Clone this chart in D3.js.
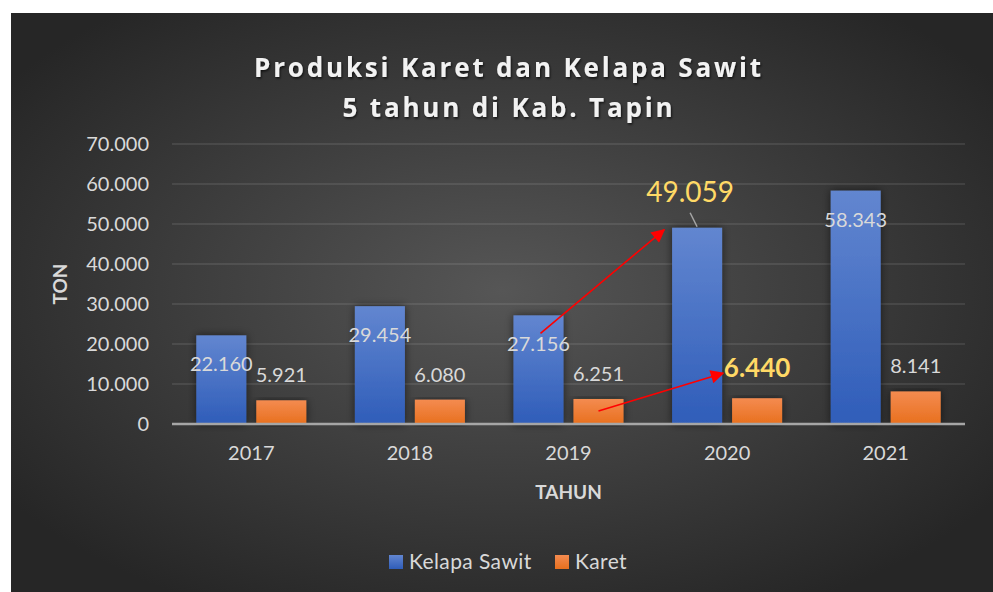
<!DOCTYPE html>
<html>
<head>
<meta charset="utf-8">
<script src="https://cdn.jsdelivr.net/npm/d3@7"></script>
<style>
  body { margin: 0; background: #fff; }
  text { font-family: Lato, "Open Sans", sans-serif; }
</style>
</head>
<body>
<div id="chart"></div>
<script>
// chart data
var years = ["2017", "2018", "2019", "2020", "2021"];
var seriesNames = ["Kelapa Sawit", "Karet"];
var sawit = [22160, 29454, 27156, 49059, 58343];
var karet = [5921, 6080, 6251, 6440, 8141];
var yTicks = [0, 10000, 20000, 30000, 40000, 50000, 60000, 70000];
var titleLines = ["Produksi Karet dan Kelapa Sawit", "5 tahun di Kab. Tapin"];

var svgWidth = 993;
var svgHeight = 592;

var margin = { top: 144, right: 28, bottom: 168, left: 172 };
var width = svgWidth - margin.left - margin.right;
var height = svgHeight - margin.top - margin.bottom;

var svg = d3.select("#chart")
  .append("svg")
  .attr("width", svgWidth)
  .attr("height", svgHeight);

var defs = svg.append("defs");

// background radial gradient (dark style)
var bgGrad = defs.append("radialGradient")
  .attr("id", "bgGrad")
  .attr("cx", "50%").attr("cy", "48%").attr("r", "62%");
bgGrad.append("stop").attr("offset", "0%").attr("stop-color", "#565656");
bgGrad.append("stop").attr("offset", "100%").attr("stop-color", "#262626");

var blueGrad = defs.append("linearGradient")
  .attr("id", "blueGrad").attr("x1", 0).attr("y1", 0).attr("x2", 0).attr("y2", 1);
blueGrad.append("stop").attr("offset", "0%").attr("stop-color", "#6286d0");
blueGrad.append("stop").attr("offset", "100%").attr("stop-color", "#2f5db9");

var orangeGrad = defs.append("linearGradient")
  .attr("id", "orangeGrad").attr("x1", 0).attr("y1", 0).attr("x2", 0).attr("y2", 1);
orangeGrad.append("stop").attr("offset", "0%").attr("stop-color", "#f48b50");
orangeGrad.append("stop").attr("offset", "100%").attr("stop-color", "#e8701e");

var shadow = defs.append("filter").attr("id", "barShadow")
  .attr("x", "-30%").attr("y", "-10%").attr("width", "160%").attr("height", "120%");
shadow.append("feDropShadow")
  .attr("dx", 0).attr("dy", 0).attr("stdDeviation", 4)
  .attr("flood-color", "#000").attr("flood-opacity", 0.55);

var textShadow = defs.append("filter").attr("id", "textShadow");
textShadow.append("feDropShadow")
  .attr("dx", 1).attr("dy", 1.5).attr("stdDeviation", 1.2)
  .attr("flood-color", "#000").attr("flood-opacity", 0.7);

defs.append("marker")
  .attr("id", "arrowHead")
  .attr("viewBox", "0 0 10 10")
  .attr("refX", 9).attr("refY", 5)
  .attr("markerWidth", 11).attr("markerHeight", 8.5)
  .attr("markerUnits", "strokeWidth")
  .attr("orient", "auto")
  .append("path")
  .attr("d", "M0,0 L10,5 L0,10 Z")
  .attr("fill", "#ff0000");

// chart area
svg.append("rect")
  .attr("x", 11).attr("y", 13)
  .attr("width", svgWidth - 11).attr("height", svgHeight - 13)
  .attr("fill", "url(#bgGrad)");

var chartGroup = svg.append("g")
  .attr("transform", `translate(${margin.left}, ${margin.top})`);

// scales
var x0 = d3.scaleBand().domain(years).range([0, width]).padding(0);
var x1 = d3.scaleBand().domain(seriesNames)
  .range([x0.bandwidth() / 2 - 55, x0.bandwidth() / 2 + 55])
  .paddingInner(1 / 6);
var y = d3.scaleLinear().domain([0, 70000]).range([height, 0]);

var fmt = d3.formatLocale({ decimal: ",", thousands: ".", grouping: [3], currency: ["", ""] }).format(",");

// gridlines
chartGroup.append("g")
  .selectAll("line")
  .data(yTicks.slice(1))
  .enter()
  .append("line")
  .attr("x1", 0).attr("x2", width)
  .attr("y1", d => y(d)).attr("y2", d => y(d))
  .attr("stroke", "#d9d9d9")
  .attr("stroke-opacity", 0.22)
  .attr("stroke-width", 1.2);

// y axis labels
var leftAxis = d3.axisLeft(y).tickValues(yTicks).tickFormat(fmt).tickSize(0).tickPadding(23);
var yAxis = chartGroup.append("g").call(leftAxis);
yAxis.select(".domain").remove();
yAxis.selectAll("text")
  .attr("fill", "#d9d9d9")
  .style("font-size", "20px");

// bars
var rows = years.map((yr, i) => ({ year: yr, values: [sawit[i], karet[i]] }));
var fills = ["url(#blueGrad)", "url(#orangeGrad)"];

var groups = chartGroup.selectAll("g.yearGroup")
  .data(rows)
  .enter()
  .append("g")
  .attr("class", "yearGroup")
  .attr("transform", d => `translate(${x0(d.year)}, 0)`);

groups.selectAll("rect")
  .data(d => d.values.map((v, k) => ({ key: seriesNames[k], value: v, k: k })))
  .enter()
  .append("rect")
  .attr("x", d => x1(d.key))
  .attr("y", d => y(d.value))
  .attr("width", x1.bandwidth())
  .attr("height", d => height - y(d.value))
  .attr("fill", d => fills[d.k])
  .attr("filter", "url(#barShadow)");

// x axis line
chartGroup.append("line")
  .attr("x1", 0).attr("x2", width)
  .attr("y1", height).attr("y2", height)
  .attr("stroke", "#a6a6a6")
  .attr("stroke-width", 2.5);

// x axis labels
var bottomAxis = d3.axisBottom(x0).tickSize(0).tickPadding(22);
var xAxis = chartGroup.append("g")
  .attr("transform", `translate(0, ${height})`)
  .call(bottomAxis);
xAxis.select(".domain").remove();
xAxis.selectAll("text")
  .attr("fill", "#d9d9d9")
  .style("font-size", "20px");

// data labels: Kelapa Sawit inside end, Karet outside end
var hiYear = "2020";
groups.each(function (d) {
  var g = d3.select(this);
  var cxS = x1("Kelapa Sawit") + x1.bandwidth() / 2;
  var cxK = x1("Karet") + x1.bandwidth() / 2;
  if (d.year === hiYear) {
    g.append("line")
      .attr("x1", cxS - 7).attr("y1", y(d.values[0]) - 15)
      .attr("x2", cxS).attr("y2", y(d.values[0]) - 1)
      .attr("stroke", "#a6a6a6").attr("stroke-width", 1.5);
    g.append("text")
      .attr("x", cxS - 7).attr("y", y(d.values[0]) - 26)
      .attr("text-anchor", "middle")
      .attr("fill", "#ffd966")
      .style("font-size", "28px")
      .text(fmt(d.values[0]));
    g.append("text")
      .attr("x", cxK).attr("y", y(d.values[1]) - 21)
      .attr("text-anchor", "middle")
      .attr("fill", "#ffd966")
      .style("font-size", "26px")
      .style("font-weight", "bold")
      .text(fmt(d.values[1]));
  } else {
    g.append("text")
      .attr("x", cxS).attr("y", y(d.values[0]) + 36)
      .attr("text-anchor", "middle")
      .attr("fill", "#d9d9d9")
      .style("font-size", "20px")
      .text(fmt(d.values[0]));
    g.append("text")
      .attr("x", cxK).attr("y", y(d.values[1]) - 18)
      .attr("text-anchor", "middle")
      .attr("fill", "#d9d9d9")
      .style("font-size", "20px")
      .text(fmt(d.values[1]));
  }
});

// red annotation arrows 2019 -> 2020
var i19 = years.indexOf("2019"), i20 = years.indexOf("2020");
var arrows = [
  {
    x1: x0("2019") + x1("Kelapa Sawit") + 27, y1: y(sawit[i19]) + 18,
    x2: x0("2020") + x1("Kelapa Sawit") - 8, y2: y(sawit[i20]) + 2
  },
  {
    x1: x0("2019") + x1("Karet") + x1.bandwidth() / 2, y1: y(karet[i19]) + 12,
    x2: x0("2020") + x1("Karet") - 9, y2: y(karet[i20]) - 25
  }
];
chartGroup.selectAll("line.arrow")
  .data(arrows)
  .enter()
  .append("line")
  .attr("class", "arrow")
  .attr("x1", d => d.x1).attr("y1", d => d.y1)
  .attr("x2", d => d.x2).attr("y2", d => d.y2)
  .attr("stroke", "#ff0000")
  .attr("stroke-width", 1.6)
  .attr("marker-end", "url(#arrowHead)");

// axis titles
svg.append("text")
  .attr("x", margin.left + width / 2)
  .attr("y", 499)
  .attr("text-anchor", "middle")
  .attr("fill", "#d9d9d9")
  .style("font-size", "19px")
  .style("font-weight", "bold")
  .text("TAHUN");

svg.append("text")
  .attr("transform", `translate(67, ${margin.top + height / 2}) rotate(-90)`)
  .attr("text-anchor", "middle")
  .attr("fill", "#d9d9d9")
  .style("font-size", "19px")
  .style("font-weight", "bold")
  .text("TON");

// title
var titleWidths = [510, 333];
var titleY = [77, 117];
titleLines.forEach(function (line, i) {
  var t = svg.append("text")
    .attr("x", 509)
    .attr("y", titleY[i])
    .attr("text-anchor", "middle")
    .attr("fill", "#f2f2f2")
    .attr("filter", "url(#textShadow)")
    .style("font-family", "'Open Sans', sans-serif")
    .style("font-size", "26px")
    .style("font-weight", "bold")
    .text(line);
  var natural = t.node().getComputedTextLength();
  var ls = (titleWidths[i] - natural) / line.length;
  t.style("letter-spacing", ls + "px");
});

// legend
var legendX = [389, 555];
var legend = svg.selectAll("g.legend")
  .data(seriesNames)
  .enter()
  .append("g")
  .attr("class", "legend")
  .attr("transform", (d, i) => `translate(${legendX[i]}, 555)`);
legend.append("rect")
  .attr("width", 14).attr("height", 14)
  .attr("fill", (d, i) => fills[i]);
legend.append("text")
  .attr("x", 20).attr("y", 14)
  .attr("fill", "#d9d9d9")
  .style("font-size", "21px")
  .style("letter-spacing", "0.4px")
  .text(d => d);
</script>
</body>
</html>
